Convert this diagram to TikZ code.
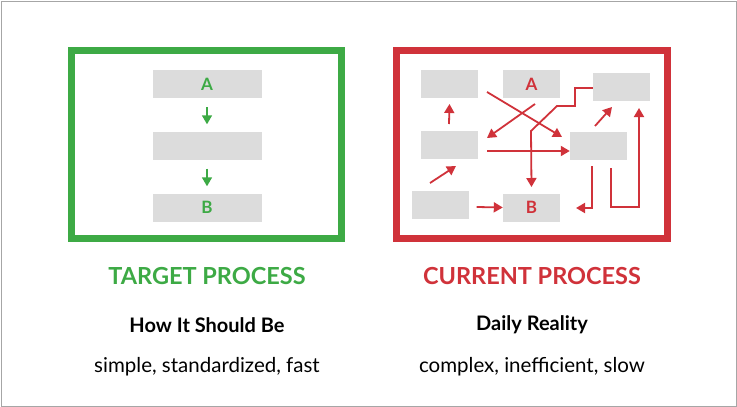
\documentclass[tikz,border=0pt]{standalone}
\usepackage{fontspec}
\setmainfont{Lato}
\usetikzlibrary{arrows.meta, positioning}
\definecolor{TargetGreen}{HTML}{3DAA45}
\definecolor{CurrentRed}{HTML}{D0323A}
\definecolor{BoxGray}{HTML}{DCDCDC}

\begin{document}
\begin{tikzpicture}[x=1pt, y=-1pt, font=\bfseries\fontsize{17}{20}\selectfont,
    box/.style={fill=BoxGray, minimum width=57pt, minimum height=28pt, inner sep=0pt},
    wbox/.style={box, minimum width=109pt},
    flow/.style={line width=1.8pt, -{Triangle[length=9pt, width=10pt]}},
    title/.style={font=\bfseries\fontsize{23.5}{26}\selectfont},
    sub/.style={font=\bfseries\fontsize{20}{23}\selectfont},
    desc/.style={font=\fontsize{20.5}{23}\selectfont}]
    \useasboundingbox (0,0) rectangle (737,407);
    \draw[gray!70, line width=0.6pt] (1,1) rectangle (736,406);

    % target process
    \draw[TargetGreen, line width=7pt] (71.5,50.5) rectangle (341.5,238.5);
    \node[wbox, text=TargetGreen] (A1) at (207,84) {A};
    \node[wbox] (M1) at (207,145.5) {};
    \node[wbox, text=TargetGreen] (B1) at (207,207.5) {B};
    \draw[flow, TargetGreen, line width=1.5pt] ([yshift=-9pt]A1.south) -- ([yshift=7pt]M1.north);
    \draw[flow, TargetGreen, line width=1.5pt] ([yshift=-9pt]M1.south) -- ([yshift=7pt]B1.north);
    \node[title, text=TargetGreen] (T1) at (207,276) {TARGET PROCESS};
    \node[sub] (S1) at (207,325) {How It Should Be};
    \node[desc] (D1) at (207,367) {simple, standardized, fast};

    % current process
    \draw[CurrentRed, line width=7pt] (396.5,50.5) rectangle (667.5,238.5);
    \node[box] (TL) at (449.5,84) {};
    \node[box, text=CurrentRed] (A2) at (531.5,84) {A};
    \node[box] (TR) at (621.5,87) {};
    \node[box] (ML) at (449.5,145) {};
    \node[box] (MR) at (598.5,146) {};
    \node[box] (BL) at (440,204.5) {};
    \node[box, text=CurrentRed] (B2) at (531.5,207.5) {B};
    \begin{scope}[CurrentRed]
        \draw[flow] (449,124) -- (TL.south |- 0,104);
        \draw[flow] (487,92) -- (562,137);
        \draw[flow] (535,104) -- (487,138);
        \draw[flow] (487,151) -- (MR.west |- 0,151);
        \draw[flow] (TR.west |- 0,88) -- (575,88) -- (575,106) -- (557,106) -- (531,131) -- (B2.north |- 0,187);
        \draw[flow] (430,183) -- (456,166);
        \draw[flow] (BL.east |- 0,207) ++(8,0) -- (B2.west);
        \draw[flow] (595,126) -- (612,107);
        \draw[flow] (592,166) -- (592,208) -- (576,208);
        \draw[flow] (611,168) -- (611,207) -- (639,207) -- (639,108);
    \end{scope}
    \node[title, text=CurrentRed] (T2) at (532,276) {CURRENT PROCESS};
    \node[sub] (S2) at (532,325) {Daily Reality};
    \node[desc] (D2) at (532,367) {complex, inefficient, slow};
\end{tikzpicture}
\end{document}
